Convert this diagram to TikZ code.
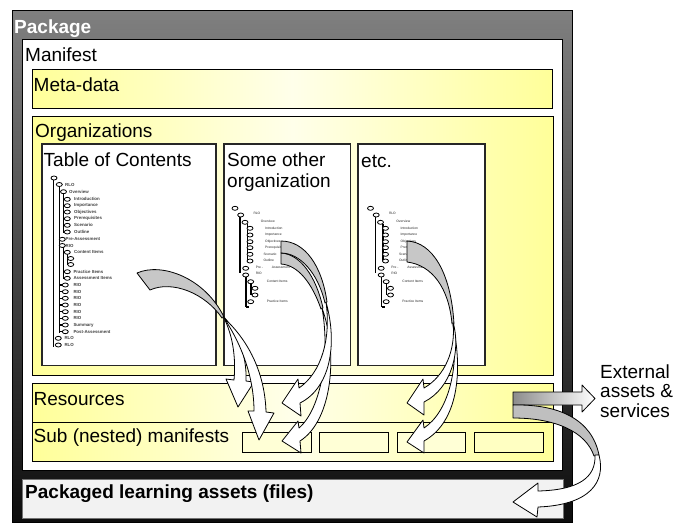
\documentclass[tikz,border=0pt]{standalone}
\usepackage{fontspec}
\setmainfont{Liberation Sans}
\definecolor{yA}{HTML}{FFFF99}
\definecolor{yL}{HTML}{FFFFEA}
\tikzset{
  ybox/.style={draw=black, line width=1pt, left color=yA, right color=yA, middle color=yL},
  wbox/.style={draw=black!85, fill=white, line width=1.1pt},
  big/.style={anchor=base west, inner sep=0pt, font=\fontsize{19}{22}\selectfont},
  tline/.style={line width=1.5pt},
  leaf/.style={draw=black, fill=white, line width=0.8pt},
  tlab/.style={anchor=west, inner sep=0pt, font=\fontsize{4.4}{5}\selectfont\bfseries, text=black!75},
  slab/.style={anchor=west, inner sep=0pt, font=\fontsize{3.3}{4}\selectfont, text=black!85},
  wArrow/.style={draw=black, fill=white, line width=0.8pt, line join=round},
  gTail/.style={draw=black, fill=black!22, line width=0.8pt, line join=round},
}
\newcommand\leafat[2]{\draw[leaf] (#1,#2) ellipse [x radius=3pt, y radius=2pt];}
\newcommand\othertree[1]{%
  \draw[tline] (240,217) -- (240,273);
  \draw[tline] (247.5,224) -- (247.5,261);
  \draw[tline] (246,277) -- (246,307);
  \draw[tline] (251,283) -- (251,295);
  \draw[tline] (246,307) -- (249,307);
  \leafat{235}{208.3}\leafat{240.7}{215}\leafat{245}{222.3}
  \leafat{250}{228.3}\leafat{250}{235}\leafat{250}{241.7}\leafat{250}{247.7}\leafat{250}{254.3}\leafat{250}{261}
  \leafat{245.7}{268.3}\leafat{245.7}{275}\leafat{250.7}{281.7}\leafat{255}{288.3}\leafat{255}{295}\leafat{250.7}{301.7}
  \node[slab] (#1a) at (253.3,213.5) {RLO};
  \node[slab] (#1b) at (260.7,221.7) {Overview};
  \node[slab] (#1c) at (265,228.3) {Introduction};
  \node[slab] (#1d) at (265,234.7) {Importance};
  \node[slab] (#1e) at (265,241.3) {Objectives};
  \node[slab] (#1f) at (265,247.7) {Prerequisites};
  \node[slab] (#1g) at (263.3,254.3) {Scenario};
  \node[slab] (#1h) at (263.3,260.7) {Outline};
  \node[slab] (#1i) at (255.7,267.5) {Pre -};
  \node[slab] (#1j) at (271.7,267.5) {Assessment};
  \node[slab] (#1k) at (255.7,273.5) {RIO};
  \node[slab] (#1l) at (266.7,281.7) {Content Items};
  \node[slab] (#1m) at (266.7,301.7) {Practice Items};
}
\begin{document}
\begin{tikzpicture}[x=1pt, y=-1pt]
\useasboundingbox (0,0) rectangle (674,523);
% package
\draw[draw=black, line width=1pt, top color=black!50, bottom color=black!95] (12.5,10.5) rectangle (572.5,522);
\node[big, font=\fontsize{19}{22}\selectfont\bfseries, text=white] (pkg) at (14,33) {Package};
% manifest
\draw[draw=black, fill=white, line width=1pt] (22.5,39) rectangle (562.5,470.5);
\node[big] (man) at (25,61) {Manifest};
\draw[ybox] (32,69) rectangle (552.5,108.5);
\node[big] (meta) at (33.5,91) {Meta-data};
\draw[ybox] (32,116.5) rectangle (553,375);
\node[big] (orgs) at (35,137) {Organizations};
\draw[wbox] (42,144) rectangle (216,365.5);
\draw[wbox] (224,144) rectangle (350.5,365.5);
\draw[wbox] (358,144) rectangle (485,365.5);
\node[big] (toc) at (43.5,166.7) {Table of Contents};
\node[big] (so1) at (227,166.7) {Some other};
\node[big] (so2) at (227,187.7) {organization};
\node[big] (etc) at (361,167) {etc.};
% resources & sub manifests
\draw[ybox] (32,383) rectangle (553,461.5);
\draw[line width=1pt] (32,422) -- (553,422);
\node[big] (res) at (33.5,405) {Resources};
\node[big] (sub) at (33.5,442) {Sub (nested) manifests};
\draw[draw=black, line width=1pt, fill=yA!40] (242,432) rectangle (311,452);
\draw[draw=black, line width=1pt, fill=yA!40] (319,432) rectangle (388,452);
\draw[draw=black, line width=1pt, fill=yA!40] (397,432) rectangle (465,452);
\draw[draw=black, line width=1pt, fill=yA!60] (474,432) rectangle (543,452);
% packaged assets
\draw[draw=black!55, line width=1pt, fill=black!5] (22,479) rectangle (563,518);
\node[big, font=\fontsize{19}{22}\selectfont\bfseries] (pla) at (25,498.5) {Packaged learning assets (files)};
% external text
\node[big] (ext1) at (600,378) {External};
\node[big] (ext2) at (600,397.5) {assets \&};
\node[big] (ext3) at (600,417) {services};
% TOC tree
\draw[tline] (53.3,180) -- (53.3,346.5);
\draw[tline] (59.3,186) -- (59.3,333);
\draw[tline] (63.3,193.5) -- (63.3,233);
\draw[tline] (63.3,247) -- (63.3,279);
\draw[tline] (67.3,254) -- (67.3,265);
\foreach \yy in {285,291.7,298.3,305,311.7,318.3,325,331.7} {\draw[tline] (59.3,\yy) -- (63,\yy);}
\foreach \yy in {271.7,278.3} {\draw[tline] (63.3,\yy) -- (65,\yy);}
\leafat{54}{178}\leafat{59.3}{184.5}\leafat{63.5}{191.7}
\foreach \yy in {199.3,205.7,212,218.7,225.3,232} {\leafat{67.3}{\yy}}
\leafat{62.3}{239.3}\leafat{62.3}{245.5}\leafat{67.3}{252.3}\leafat{70.7}{258.5}\leafat{70.7}{264.5}
\leafat{67.3}{271.7}\leafat{67.3}{278.3}
\foreach \yy in {285,291.7,298.3,305,311.7,318.3,325,331.7} {\leafat{65.3}{\yy}}
\leafat{58.3}{338.3}\leafat{58.3}{345}
\node[tlab] (t1) at (65,184.5) {RLO};
\node[tlab] (t2) at (69,191.7) {Overview};
\node[tlab] (t3) at (74,199.3) {Introduction};
\node[tlab] (t4) at (74,205.7) {Importance};
\node[tlab] (t5) at (74,212) {Objectives};
\node[tlab] (t6) at (74,218.7) {Prerequisites};
\node[tlab] (t7) at (74,225.3) {Scenario};
\node[tlab] (t8) at (74,232) {Outline};
\node[tlab] (t9) at (65.5,239.3) {Pre-Assessment};
\node[tlab] (t10) at (65.5,245.5) {RIO};
\node[tlab] (t11) at (74,252.3) {Content Items};
\node[tlab] (t12) at (73.3,271.7) {Practice Items};
\node[tlab] (t13) at (73.3,278.3) {Assessment Items};
\node[tlab] (t14) at (73.3,285) {RIO};
\node[tlab] (t15) at (73.3,291.7) {RIO};
\node[tlab] (t16) at (73.3,298.3) {RIO};
\node[tlab] (t17) at (73.3,305) {RIO};
\node[tlab] (t18) at (73.3,311.7) {RIO};
\node[tlab] (t19) at (73.3,318.3) {RIO};
\node[tlab] (t20) at (73.3,325) {Summary};
\node[tlab] (t21) at (73.3,331.7) {Post-Assessment};
\node[tlab] (t22) at (64.3,338.3) {RLO};
\node[tlab] (t23) at (64.3,345) {RLO};
% other trees
\othertree{so}
\begin{scope}[xshift=135.5pt]
\othertree{et}
\end{scope}
% TOC arrows
\draw[gTail] (137,273) .. controls (162,262) and (205,278) .. (224,317) -- (222,318) .. controls (205,293) and (172,280) .. (150,290) -- cycle;
\draw[wArrow] (223,316) .. controls (233,335) and (236,358) .. (234,380) -- (226,379) -- (238,407) -- (254,382) -- (246,381) .. controls (247,356) and (238,332) .. (223,316) -- cycle;
\draw[wArrow] (224,318) .. controls (242,345) and (254,378) .. (254,411) -- (248,411) -- (259,440) -- (274,413) -- (266,412) .. controls (265,375) and (250,342) .. (224,318) -- cycle;
% other organization arrows
\draw[gTail] (281,253) .. controls (300,254) and (316,276) .. (323,308) -- (321,309) .. controls (312,283) and (298,265) .. (281,264) -- cycle;
\draw[gTail] (281,241) .. controls (305,241) and (322,266) .. (327,302) -- (325,303) .. controls (318,273) and (300,253) .. (281,253) -- cycle;
\draw[wArrow] (322,308) .. controls (330,352) and (322,408) .. (299,428) -- (298,421) -- (282,441) -- (301,453) -- (300,441) .. controls (333,420) and (338,352) .. (322,308) -- cycle;
\draw[wArrow] (326,302) .. controls (331,338) and (322,372) .. (299,388) -- (298,379) -- (282,403) -- (301,416) -- (300,403) .. controls (330,388) and (338,345) .. (326,302) -- cycle;
% etc arrows
\draw[gTail] (407,241) .. controls (432,242) and (451,272) .. (454,324) -- (452,324) .. controls (449,288) and (432,265) .. (407,262) -- cycle;
\draw[wArrow] (453,325) .. controls (459,370) and (448,412) .. (424,428) -- (423,420) -- (407,442) -- (424,453) -- (424,441) .. controls (458,422) and (463,372) .. (453,325) -- cycle;
\draw[wArrow] (453,322) .. controls (456,350) and (445,376) .. (424,388) -- (423,379) -- (407,403) -- (424,415) -- (424,402) .. controls (452,388) and (461,350) .. (453,322) -- cycle;
% resources arrows
\draw[draw=black, line width=0.8pt, line join=round, left color=black!45, right color=white] (513,392) -- (582,392) -- (582,385) -- (595,398.5) -- (582,412) -- (582,405) -- (513,405) -- cycle;
\draw[gTail, fill=black!25] (513,405) .. controls (560,404) and (592,420) .. (599,455) -- (594,456) .. controls (586,432) and (556,418) .. (513,418) -- cycle;
\draw[wArrow] (595,455) .. controls (596,478) and (578,490) .. (538,491) -- (538,483) -- (513,502) -- (537,517) -- (538,507) .. controls (590,505) and (606,482) .. (599,455) -- cycle;
\end{tikzpicture}
\end{document}
